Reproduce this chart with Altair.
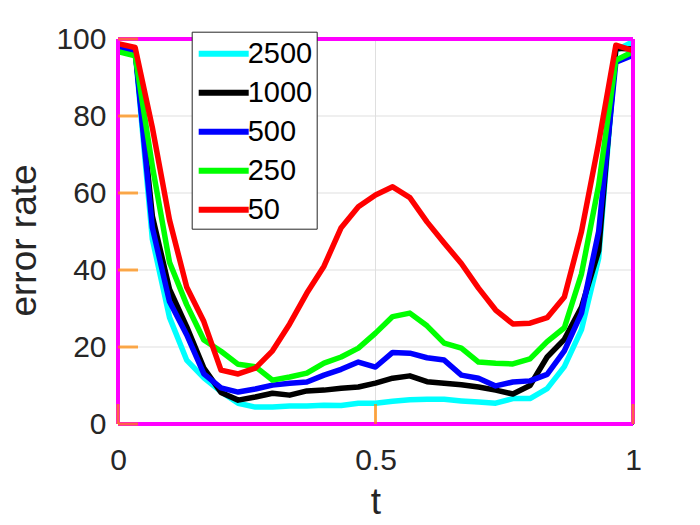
import altair as alt
import pandas as pd

t = [0.0, 0.0333, 0.0667, 0.1, 0.1333, 0.1667, 0.2, 0.2333, 0.2667, 0.3,
     0.3333, 0.3667, 0.4, 0.4333, 0.4667, 0.5, 0.5333, 0.5667, 0.6, 0.6333,
     0.6667, 0.7, 0.7333, 0.7667, 0.8, 0.8333, 0.8667, 0.9, 0.9333, 0.9667, 1.0]

s2500 = [97.5, 96.8, 48, 27.7, 16.6, 12.0, 8.4, 5.4, 4.4, 4.4,
         4.7, 4.7, 4.9, 4.8, 5.4, 5.4, 5.9, 6.3, 6.4, 6.4,
         6.0, 5.7, 5.4, 6.6, 6.6, 9.2, 14.9, 24.5, 43, 97, 99.3]
s1000 = [98, 97.2, 54, 35, 25.3, 14.5, 8.2, 6.2, 7.0, 8.0,
         7.5, 8.6, 8.8, 9.3, 9.6, 10.6, 11.9, 12.5, 11.0, 10.6,
         10.2, 9.6, 8.8, 7.8, 10.0, 17.4, 22, 30.4, 45, 97.6, 97.4]
s500 = [97.8, 97, 51, 31.8, 23.2, 13.0, 9.4, 8.3, 9.1, 10.1,
        10.6, 10.9, 12.7, 14.2, 16.1, 14.8, 18.6, 18.4, 17.2, 16.6,
        12.7, 11.9, 9.9, 10.9, 11.2, 12.9, 19, 28.8, 50, 94, 95.8]
s250 = [96.7, 95.6, 67, 42, 31, 21.8, 18.9, 15.5, 14.9, 11.4,
        12.2, 13.2, 15.8, 17.4, 19.7, 23.6, 27.9, 28.8, 25.5, 21,
        19.7, 16.1, 15.8, 15.6, 16.9, 21.4, 25, 39, 62, 94.5, 96.7]
s50 = [98.8, 97.8, 77, 53, 35.6, 26.6, 14, 13.0, 14.5, 19,
       26, 34, 41, 51, 56.4, 59.5, 61.6, 58.8, 52.5, 47,
       41.7, 35.3, 29.6, 26, 26.2, 27.6, 33, 50, 73, 98.4, 97]

names = ["2500", "1000", "500", "250", "50"]
colors = ["#00FFFF", "#000000", "#0000FF", "#00FF00", "#FF0000"]
series = [s2500, s1000, s500, s250, s50]
x_ticks = [0, 0.5, 1]
y_ticks = [0, 20, 40, 60, 80, 100]

rows = []
for name, vals in zip(names, series):
    for tv, v in zip(t, vals):
        rows.append({"t": tv, "v": v, "n": name})
df = pd.DataFrame(rows)
xt = pd.DataFrame({"t": x_ticks})
yt = pd.DataFrame({"v": y_ticks})
xg = pd.DataFrame({"t": x_ticks[1:-1]})
yg = pd.DataFrame({"v": y_ticks[1:-1]})
edges = pd.DataFrame({"t0": [0, 0, 0, 1], "t1": [1, 1, 0, 1],
                      "v0": [0, 100, 0, 0], "v1": [0, 100, 100, 100]})

FONT = "Liberation Sans"
AX = "#262626"
GRID = "#dfdfdf"

xscale = alt.Scale(domain=[0, 1], nice=False, zero=False)
yscale = alt.Scale(domain=[0, 100], nice=False)

x_axis = alt.Axis(orient="bottom", values=x_ticks, format="~g",
                  ticks=False, tickSize=0, domain=False, grid=False,
                  labelFlush=False, labelPadding=45, labelBaseline="alphabetic",
                  labelFontSize=30,
                  title="t", titleFontSize=37, titleBaseline="alphabetic",
                  titleX=257.5, titleY=89)
y_axis = alt.Axis(orient="left", values=y_ticks, format="d",
                  ticks=False, tickSize=0, domain=False, grid=False,
                  labelFlush=False, labelPadding=12, labelBaseline="middle",
                  labelAlign="right",
                  labelFontSize=30, title="error rate", titleFontSize=37,
                  titleBaseline="alphabetic", titleAngle=-90, titleX=-83, titleY=201)

legend = alt.Legend(orient="none", legendX=73.7, legendY=-7.3, title=None,
                    symbolType="M-1.667,0H1.667", symbolSize=900, symbolStrokeWidth=6,
                    symbolOffset=10,
                    labelFontSize=29, labelFont=FONT, labelColor="black",
                    strokeColor=AX, fillColor="white", padding=4, rowPadding=6,
                    labelOffset=6)

color = alt.Color("n:N", scale=alt.Scale(domain=names, range=colors), legend=legend)

lines = alt.Chart(df).mark_line(strokeWidth=5.5, strokeJoin="round").encode(
    x=alt.X("t:Q", scale=xscale, axis=x_axis),
    y=alt.Y("v:Q", scale=yscale, axis=y_axis),
    color=color,
)

grid_x = alt.Chart(xg).mark_rule(color=GRID, strokeWidth=1).encode(
    x=alt.X("t:Q", scale=xscale))
grid_y = alt.Chart(yg).mark_rule(color=GRID, strokeWidth=1).encode(
    y=alt.Y("v:Q", scale=yscale))

frame = alt.Chart(edges).mark_rule(color="#ff00ff", strokeWidth=4).encode(
    x=alt.X("t0:Q", scale=xscale), x2="t1:Q",
    y=alt.Y("v0:Q", scale=yscale), y2="v1:Q")

tick_style = dict(color="#ff8800", thickness=3, size=20)
ticks_bottom = alt.Chart(xt).mark_tick(orient="vertical", yOffset=-10, **tick_style).encode(
    x=alt.X("t:Q", scale=xscale), y=alt.datum(0))
ticks_left = alt.Chart(yt).mark_tick(orient="horizontal", xOffset=10, **tick_style).encode(
    y=alt.Y("v:Q", scale=yscale), x=alt.datum(0))

chart = alt.layer(grid_x, grid_y, lines, frame, ticks_bottom, ticks_left).properties(
    width=515, height=385,
    autosize=alt.AutoSizeParams(type="none"),
    padding={"left": 110, "top": 31, "right": 55, "bottom": 93},
).configure(background="white").configure_view(
    stroke=AX, strokeWidth=1
).configure_axis(
    labelFont=FONT, titleFont=FONT, labelColor=AX, titleColor=AX,
    titleFontWeight="normal"
)

chart.save("out.html", embed_options={"renderer": "svg", "actions": False})
